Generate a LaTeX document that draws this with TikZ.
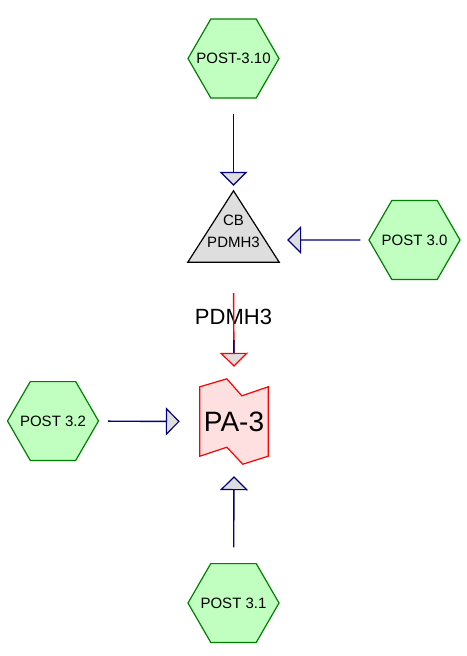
\documentclass[tikz,border=0pt]{standalone}
\usepackage{fontspec}
\setmainfont{Liberation Sans}
\usetikzlibrary{positioning,arrows.meta,shapes.geometric,backgrounds,calc}

\definecolor{postfill}{HTML}{C0FFC0}
\definecolor{postedge}{HTML}{008000}
\definecolor{linknavy}{HTML}{000080}
\definecolor{pafill}{HTML}{FFE0E0}
\definecolor{cbfill}{HTML}{DEDEDE}

\newcommand{\posttext}[1]{\makebox[0pt]{#1}}

\begin{document}
\begin{tikzpicture}[x=1pt,y=-1pt,
        post/.style={
            regular polygon,
            regular polygon sides=6,
            minimum size=91pt,
            inner sep=0pt,
            draw=postedge,
            fill=postfill,
            line width=1.2pt,
            font=\fontsize{15}{18}\selectfont
        },
        box/.style={minimum width=#1, inner sep=0pt},
        link/.style={
            draw=linknavy,
            line width=1.4pt,
            -{Triangle[width=28pt,length=14pt,fill=cbfill,line width=1.2pt]}
        },
        redlink/.style={
            link,
            draw=red,
            -{Triangle[width=28pt,length=14pt,fill=cbfill,line width=1.2pt,color=red]}
        }
    ]
        \useasboundingbox (0,0) rectangle (466,656);

        \node[post] (p310) at (233.5,58.5) {\posttext{POST-3.10}};
        \node[post] (p30) at (414.5,240) {\posttext{POST 3.0}};
        \node[post] (p32) at (53,421) {\posttext{POST 3.2}};
        \node[post] (p31) at (233.5,603) {\posttext{POST 3.1}};

        \node[box=91pt, minimum height=71pt] (cb) at (233.5,226.5) {};
        \node[align=center, font=\fontsize{15}{22}\selectfont] (cbtext) at (233.5,231) {CB\\PDMH3};
        \node[box=68pt, minimum height=85pt, font=\fontsize{28}{32}\selectfont] (pa) at (234,421.5) {PA-3};

        \begin{scope}[on background layer]
            \draw[fill=cbfill, line width=1.2pt, line join=miter]
                (cb.south west) -- (cb.north) -- (cb.south east) -- cycle;
            \draw[fill=pafill, draw=red, line width=1.2pt]
                ($(pa.north west)+(0,8)$) -- ($(pa.north west)+(27,0)$)
                -- ($(pa.north west)+(42,17)$) -- ($(pa.north east)+(0,8)$)
                -- ($(pa.south east)+(0,-8)$) -- ($(pa.south west)+(43,0)$)
                -- ($(pa.south west)+(27,-17)$) -- ($(pa.south west)+(0,-8)$) -- cycle;
        \end{scope}

        \node[font=\fontsize{22}{26}\selectfont] (flow) at (233.5,317) {PDMH3};

        \draw[link, shorten <=15pt, shorten >=5pt] (p310) -- (cb.north);
        \draw[link, shorten <=8pt, shorten >=8pt] (p30) -- (cb.east |- p30);
        \draw[redlink, shorten <=31pt, shorten >=12pt] (cb.south) -- (pa.north);
        \draw[draw=linknavy, line width=1.4pt, shorten <=78pt, shorten >=26pt] (cb.south) -- (pa.north);
        \draw[link, shorten <=9pt, shorten >=20pt] (p32) -- (pa.west);
        \draw[link, shorten <=15.6pt, shorten >=12pt] (p31) -- (pa.south);
\end{tikzpicture}
\end{document}
